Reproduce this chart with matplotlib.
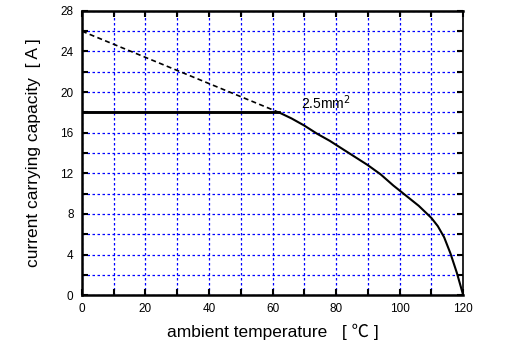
import matplotlib.pyplot as plt

plt.rcParams['font.family'] = ['Liberation Sans', 'Noto Sans CJK SC', 'DejaVu Sans']

# derating curve 2.5mm2
temp = [0, 62, 66, 70, 74, 78, 82, 86, 90, 94, 98, 102, 106, 110, 112, 114, 116, 118, 120]
current = [18, 18, 17.4, 16.7, 15.9, 15.2, 14.4, 13.6, 12.8, 11.9, 10.8, 9.8, 8.8, 7.6, 6.8, 5.7, 4.1, 2.2, 0]
# extension of the flat part (dashed)
temp_ext = [0, 62]
current_ext = [26, 18]

fig = plt.figure(figsize=(5.09, 3.4), dpi=100)
ax = fig.add_axes([0.161, 0.132, 0.749, 0.836])

ax.plot(temp, current, color='black', linewidth=1.5)
ax.plot(temp[:2], current[:2], color='black', linewidth=2)
ax.plot(temp_ext, current_ext, color='black', linestyle=(0, (3, 2)), linewidth=1.2)

ax.text(69, 18.3, '2.5mm$^2$', fontsize=10)

ax.set_xlim(0, 120)
ax.set_ylim(0, 28)
ax.set_xticks(range(0, 121, 20))
ax.set_xticks(range(0, 121, 10), minor=True)
ax.set_yticks(range(0, 29, 4))
ax.set_yticks(range(0, 29, 2), minor=True)

ax.grid(which='both', color='blue', linestyle=(0, (2, 2)), linewidth=0.9)
ax.tick_params(which='both', direction='in', top=True, right=True, labelsize=8.5, length=4, width=1.5, pad=6)

for s in ['left', 'bottom', 'top']:
    ax.spines[s].set_linewidth(1.8)
ax.spines['right'].set_linewidth(1.2)

ax.set_xlabel('ambient temperature   [ ℃ ]', fontsize=12.5, labelpad=6)
ax.set_ylabel('current carrying capacity  [ A ]', fontsize=12.5, labelpad=14)

plt.savefig('out.png')
